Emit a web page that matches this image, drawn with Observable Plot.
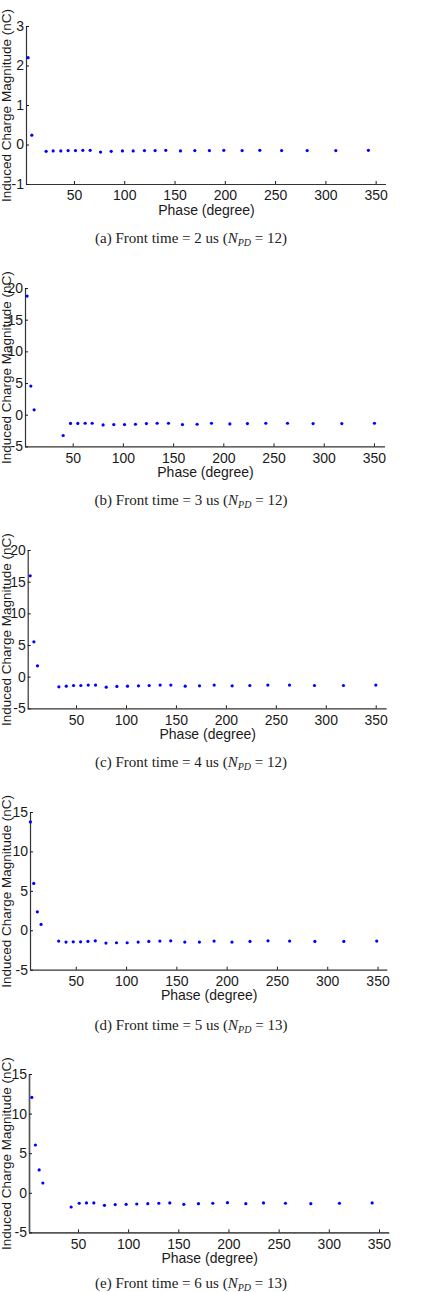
<!DOCTYPE html>
<html><head><meta charset="utf-8">
<script src="https://cdn.jsdelivr.net/npm/d3@7"></script>
<script src="https://cdn.jsdelivr.net/npm/@observablehq/plot@0.6"></script>
<style>
body{margin:0;background:#fff;}
#wrap{position:relative;width:437px;height:1292px;overflow:hidden;}
#wrap svg{position:absolute;left:0;}
.cap{position:absolute;left:0;width:382px;text-align:center;font-family:"Liberation Serif","Times New Roman",serif;font-size:15px;line-height:18px;color:#222;white-space:nowrap;}
.cap sub{font-size:10px;vertical-align:-3px;line-height:0;}
</style></head><body><div id="wrap"></div>
<script>
// ---- data ----
const phaseA = [3.9, 7.6, 21.8, 28.8, 36.4, 43.7, 51.0, 58.3, 65.6, 75.9, 86.5, 97.7, 108.4, 119.6, 130.2, 140.8, 155.4, 169.7, 184.2, 198.5, 216.7, 234.3, 256.0, 281.4, 309.9, 342.3];
const chargeA = [2.21, 0.25, -0.16, -0.15, -0.15, -0.14, -0.14, -0.135, -0.135, -0.18, -0.16, -0.15, -0.15, -0.14, -0.14, -0.135, -0.15, -0.14, -0.14, -0.135, -0.14, -0.135, -0.14, -0.14, -0.14, -0.135];

const phaseB = [4.1, 7.8, 11.1, 40.0, 47.3, 54.6, 61.9, 68.9, 79.8, 90.4, 101.1, 112.0, 122.9, 133.6, 144.9, 158.8, 173.4, 187.7, 206.0, 223.5, 241.8, 263.4, 288.9, 317.5, 350.0];
const chargeB = [18.8, 4.6, 0.85, -3.2, -1.3, -1.3, -1.27, -1.27, -1.53, -1.48, -1.48, -1.43, -1.32, -1.27, -1.27, -1.48, -1.43, -1.27, -1.38, -1.32, -1.27, -1.27, -1.32, -1.32, -1.27];

const phaseC = [3.6, 7.3, 10.9, 32.3, 39.7, 47.0, 54.3, 61.7, 69.0, 79.7, 90.4, 101.0, 112.0, 122.7, 133.7, 144.4, 158.8, 173.1, 187.8, 205.8, 223.5, 241.5, 263.2, 288.2, 317.2, 349.6];
const chargeC = [16.0, 5.58, 1.79, -1.53, -1.42, -1.32, -1.32, -1.26, -1.26, -1.58, -1.47, -1.42, -1.37, -1.32, -1.26, -1.26, -1.42, -1.37, -1.26, -1.37, -1.32, -1.26, -1.26, -1.32, -1.32, -1.26];

const phaseD = [4.4, 7.7, 11.3, 15.0, 32.5, 39.8, 47.0, 54.3, 61.6, 68.9, 79.5, 90.0, 100.6, 111.5, 122.1, 133.1, 143.9, 157.9, 172.4, 187.0, 204.8, 222.7, 240.6, 262.1, 287.2, 316.0, 348.7];
const chargeD = [13.8, 6.0, 2.4, 0.8, -1.31, -1.44, -1.40, -1.40, -1.35, -1.27, -1.56, -1.52, -1.52, -1.44, -1.35, -1.31, -1.27, -1.44, -1.44, -1.31, -1.44, -1.35, -1.27, -1.31, -1.35, -1.35, -1.31];

const phaseE = [3.5, 7.1, 10.8, 14.5, 42.7, 50.7, 58.0, 65.3, 75.9, 86.6, 97.5, 108.1, 119.1, 130.1, 141.0, 155.0, 169.6, 183.9, 198.5, 216.8, 234.4, 256.3, 281.6, 310.1, 342.7];
const chargeE = [12.1, 6.1, 2.95, 1.3, -1.73, -1.26, -1.22, -1.22, -1.52, -1.43, -1.39, -1.35, -1.31, -1.26, -1.22, -1.39, -1.31, -1.26, -1.18, -1.31, -1.22, -1.26, -1.31, -1.26, -1.22];

const panelLetters = ["(a)", "(b)", "(c)", "(d)", "(e)"];
const frontTimes = [2, 3, 4, 5, 6];
const npdValues = [12, 12, 12, 13, 13];
const xTicks = [50, 100, 150, 200, 250, 300, 350];
const yTicksA = [-1, 0, 1, 2, 3];
const yTicks20 = [-5, 0, 5, 10, 15, 20];
const yTicks15 = [-5, 0, 5, 10, 15];
const xLabel = "Phase (degree)";
const yLabel = "Induced Charge Magnitude (nC)";

// ---- layout (pixels) ----
const layout = [
  {phase: phaseA, charge: chargeA, yDomain: [-1, 3], yTicks: yTicksA, xDomain: [2.3, 360.3], top: 26, bottom: 184, left: 26, right: 386, cap: 238, axis: "#333", axisW: 1.2},
  {phase: phaseB, charge: chargeB, yDomain: [-5, 20], yTicks: yTicks20, xDomain: [2.5, 361], top: 288.3, bottom: 446.7, left: 25, right: 385, cap: 500, axis: "#333", axisW: 1.2},
  {phase: phaseC, charge: chargeC, yDomain: [-5, 20], yTicks: yTicks20, xDomain: [1.6, 361], top: 550, bottom: 708.3, left: 27.7, right: 386.7, cap: 761.7, axis: "#333", axisW: 1.2},
  {phase: phaseD, charge: chargeD, yDomain: [-5, 15], yTicks: yTicks15, xDomain: [4.5, 359.7], top: 812.3, bottom: 970, left: 30, right: 387.3, cap: 1025, axis: "#333", axisW: 1.2},
  {phase: phaseE, charge: chargeE, yDomain: [-5, 15], yTicks: yTicks15, xDomain: [1.2, 360.3], top: 1074.3, bottom: 1232.7, left: 29, right: 389.3, cap: 1282.5, axis: "#555", axisW: 1.7}
];

const wrap = document.getElementById("wrap");
const MT = 20, MB = 45;
layout.forEach((p, i) => {
  const data = p.phase.map((x, k) => ({x, y: p.charge[k]}));
  const h = p.bottom - p.top;
  const svg = Plot.plot({
    width: 437,
    height: MT + h + MB,
    marginTop: MT,
    marginBottom: MB,
    marginLeft: p.left,
    marginRight: 437 - p.right,
    style: {fontFamily: "'Liberation Sans', Arial, sans-serif", fontSize: "14px", color: "#1a1a1a", background: "transparent"},
    x: {domain: p.xDomain, label: null},
    y: {domain: p.yDomain, label: null},
    marks: [
      Plot.ruleY([p.yDomain[0]], {stroke: p.axis, strokeWidth: p.axisW}),
      Plot.ruleX([p.xDomain[0]], {stroke: p.axis, strokeWidth: p.axisW}),
      Plot.axisX({ticks: xTicks, tickFormat: d => String(d), tickSize: -3, tickPadding: 9, fontSize: 14, label: xLabel, labelAnchor: "center", labelOffset: 30, labelArrow: "none"}),
      Plot.axisY({ticks: p.yTicks, tickFormat: d => String(d), tickSize: -3, tickPadding: 5.5, fontSize: 14, label: null}),
      Plot.text([yLabel], {frameAnchor: "left", rotate: -90, dx: 10 - p.left, lineAnchor: "bottom", textAnchor: "middle", fontSize: 13.5, fill: "#1a1a1a"}),
      Plot.dot(data, {x: "x", y: "y", r: 1.6, fill: "#0000ff", stroke: "none"})
    ]
  });
  svg.style.top = (p.top - MT) + "px";
  wrap.appendChild(svg);
  const cap = document.createElement("div");
  cap.className = "cap";
  cap.style.top = (p.cap - 9) + "px";
  cap.innerHTML = `${panelLetters[i]} Front time = ${frontTimes[i]} us (<i>N<sub>PD</sub></i> = ${npdValues[i]})`;
  wrap.appendChild(cap);
});
</script></body></html>
